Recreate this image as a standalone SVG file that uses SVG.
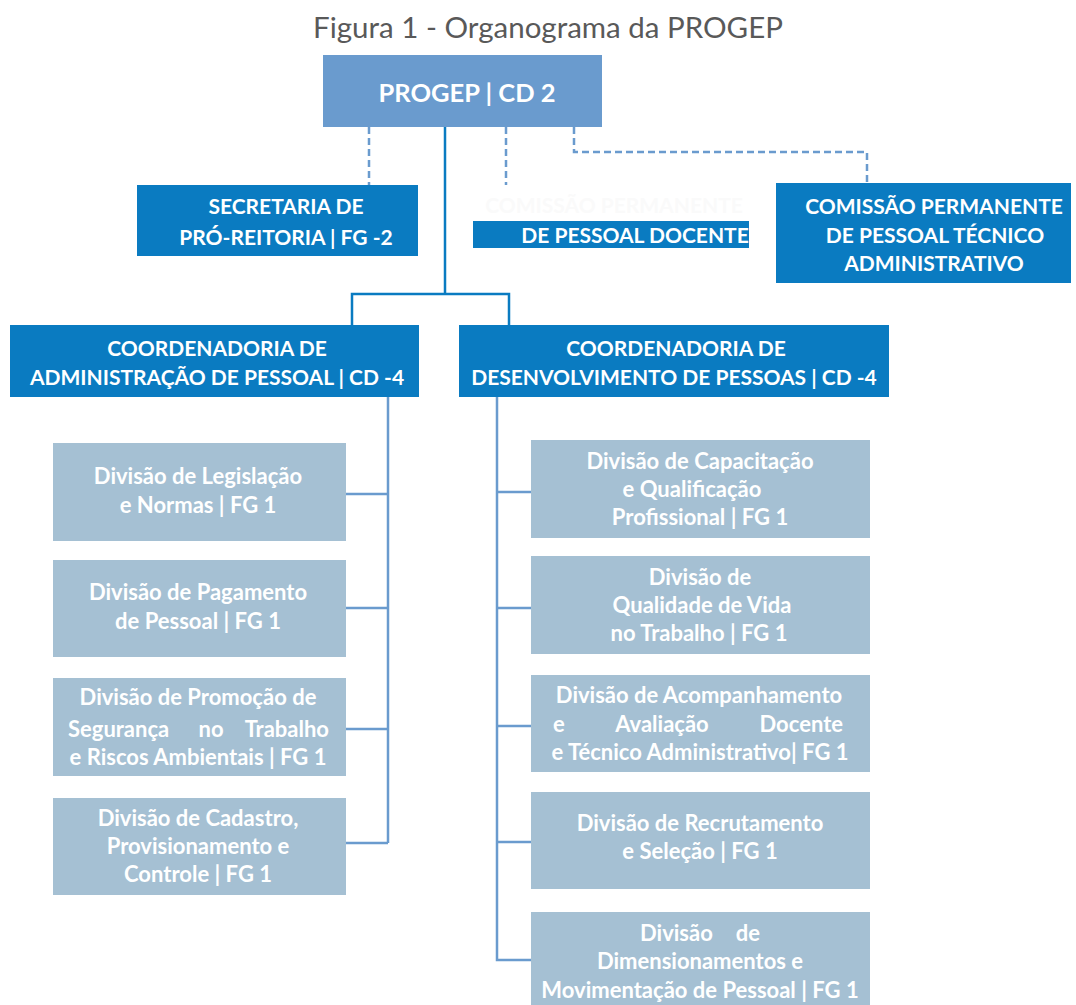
<svg xmlns="http://www.w3.org/2000/svg" width="1076" height="1005" viewBox="0 0 1076 1005">
<style>
.t{font-family:Lato,"Open Sans","Liberation Sans",sans-serif;font-weight:bold;fill:#fff;text-anchor:middle}
.h{font-size:21px}
.d{font-size:22px}
.top{fill:#6A9BCE}
.blue{fill:#0A7BC1}
.div{fill:#A5C0D3}
.solid{stroke:#0A7BC1;stroke-width:2.5;fill:none}
.light{stroke:#6A9BCE;stroke-width:2.5;fill:none}
.dash{stroke:#6A9BCE;stroke-width:2.5;fill:none;stroke-dasharray:7 4}
</style>
<rect width="1076" height="1005" fill="#fff"/>
<text x="548" y="38" font-family="Lato,'Open Sans','Liberation Sans',sans-serif" font-size="29.5" fill="#595959" text-anchor="middle">Figura 1 - Organograma da PROGEP</text>

<g id="connectors">
<path class="dash" d="M369 127V185"/>
<path class="dash" d="M506 127V185"/>
<path class="dash" d="M574 127V152H867V183"/>
<path class="solid" d="M445 127V294M352 325V294H509V325"/>
<path class="light" d="M388 397V843M346 494H388M346 608H388M346 729H388M346 843H388"/>
<path class="light" d="M497 397V960H531M497 492H531M497 608H531M497 726H531M497 842H531"/>
</g>

<g id="progep">
<rect class="top" x="323" y="55" width="279" height="72"/>
<text class="t" x="467" y="102" font-size="25.5">PROGEP | CD 2</text>
</g>

<g id="secretaria">
<rect class="blue" x="137" y="185" width="281" height="71"/>
<text class="t h" x="286" y="214">SECRETARIA DE</text>
<text class="t h" x="286" y="245">PRÓ-REITORIA | FG -2</text>
</g>

<g id="comissao-docente">
<text class="t h" x="614" y="213" style="fill:#FAFAFA">COMISSÃO PERMANENTE</text>
<rect class="blue" x="473" y="221" width="276" height="27"/>
<text class="t h" x="635" y="243">DE PESSOAL DOCENTE</text>
</g>

<g id="comissao-tecnico">
<rect class="blue" x="776" y="183" width="295" height="100"/>
<text class="t h" x="934" y="214">COMISSÃO PERMANENTE</text>
<text class="t h" x="935" y="243">DE PESSOAL TÉCNICO</text>
<text class="t h" x="934" y="271">ADMINISTRATIVO</text>
</g>

<g id="coord-admin">
<rect class="blue" x="10" y="325" width="409" height="72"/>
<text class="t h" x="217" y="356">COORDENADORIA DE</text>
<text class="t h" x="217" y="385">ADMINISTRAÇÃO DE PESSOAL | CD -4</text>
</g>

<g id="coord-desenv">
<rect class="blue" x="459" y="325" width="430" height="72"/>
<text class="t h" x="676" y="356">COORDENADORIA DE</text>
<text class="t h" x="674" y="385">DESENVOLVIMENTO DE PESSOAS | CD -4</text>
</g>

<g id="div-legislacao">
<rect class="div" x="53" y="443" width="293" height="98"/>
<text class="t d" x="198" y="484">Divisão de Legislação</text>
<text class="t d" x="198" y="513">e Normas | FG 1</text>
</g>

<g id="div-pagamento">
<rect class="div" x="53" y="560" width="293" height="97"/>
<text class="t d" x="198" y="600">Divisão de Pagamento</text>
<text class="t d" x="198" y="629">de Pessoal | FG 1</text>
</g>

<g id="div-promocao">
<rect class="div" x="53" y="678" width="293" height="98"/>
<text class="t d" x="198" y="705">Divisão de Promoção de</text>
<text class="t d" x="68" y="737" style="text-anchor:start">Segurança</text>
<text class="t d" x="211" y="737">no</text>
<text class="t d" x="329" y="737" style="text-anchor:end">Trabalho</text>
<text class="t d" x="198" y="765">e Riscos Ambientais | FG 1</text>
</g>

<g id="div-cadastro">
<rect class="div" x="53" y="798" width="293" height="97"/>
<text class="t d" x="198" y="826">Divisão de Cadastro,</text>
<text class="t d" x="198" y="854">Provisionamento e</text>
<text class="t d" x="198" y="882">Controle | FG 1</text>
</g>

<g id="div-capacitacao">
<rect class="div" x="531" y="440" width="339" height="98"/>
<text class="t d" x="700" y="469">Divisão de Capacitação</text>
<text class="t d" x="692" y="497">e Qualificação</text>
<text class="t d" x="700" y="525">Profissional | FG 1</text>
</g>

<g id="div-qualidade">
<rect class="div" x="531" y="556" width="339" height="98"/>
<text class="t d" x="700" y="585">Divisão de</text>
<text class="t d" x="702" y="613">Qualidade de Vida</text>
<text class="t d" x="699" y="641">no Trabalho | FG 1</text>
</g>

<g id="div-acompanhamento">
<rect class="div" x="531" y="675" width="339" height="97"/>
<text class="t d" x="699" y="703">Divisão de Acompanhamento</text>
<text class="t d" x="553" y="732" style="text-anchor:start">e</text>
<text class="t d" x="662" y="732">Avaliação</text>
<text class="t d" x="843" y="732" style="text-anchor:end">Docente</text>
<text class="t d" x="700" y="760">e Técnico Administrativo| FG 1</text>
</g>

<g id="div-recrutamento">
<rect class="div" x="531" y="792" width="339" height="97"/>
<text class="t d" x="700" y="831">Divisão de Recrutamento</text>
<text class="t d" x="700" y="859">e Seleção | FG 1</text>
</g>

<g id="div-dimensionamento">
<rect class="div" x="531" y="912" width="339" height="93"/>
<text class="t d" x="640" y="941" style="text-anchor:start">Divisão</text>
<text class="t d" x="760" y="941" style="text-anchor:end">de</text>
<text class="t d" x="700" y="969">Dimensionamentos e</text>
<text class="t d" x="700" y="998">Movimentação de Pessoal | FG 1</text>
</g>
</svg>
